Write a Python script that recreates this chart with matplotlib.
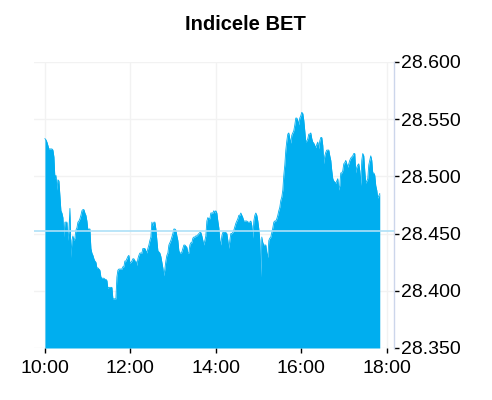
import pandas as pd
import matplotlib.pyplot as plt
import matplotlib.dates as mdates

# Indicele BET - evolutie intraday
values = [
    28.533, 28.532, 28.530, 28.527, 28.524, 28.524, 28.524, 28.524, 28.523, 28.517,
    28.498, 28.501, 28.488, 28.497, 28.496, 28.483, 28.470, 28.468, 28.464, 28.447,
    28.460, 28.460, 28.460, 28.444, 28.453, 28.472, 28.429, 28.444, 28.448, 28.444,
    28.446, 28.453, 28.455, 28.460, 28.461, 28.463, 28.466, 28.470, 28.471, 28.471,
    28.468, 28.466, 28.461, 28.453, 28.454, 28.454, 28.437, 28.433, 28.431, 28.428,
    28.426, 28.425, 28.420, 28.420, 28.419, 28.418, 28.412, 28.411, 28.411, 28.411,
    28.410, 28.410, 28.409, 28.402, 28.403, 28.403, 28.403, 28.403, 28.393, 28.393,
    28.393, 28.393, 28.412, 28.418, 28.419, 28.419, 28.419, 28.419, 28.421, 28.421,
    28.426, 28.426, 28.428, 28.430, 28.431, 28.424, 28.425, 28.426, 28.428, 28.428,
    28.426, 28.426, 28.422, 28.428, 28.431, 28.433, 28.433, 28.433, 28.437, 28.437,
    28.437, 28.435, 28.433, 28.437, 28.440, 28.444, 28.447, 28.460, 28.457, 28.460,
    28.460, 28.454, 28.444, 28.435, 28.434, 28.433, 28.430, 28.425, 28.420, 28.413,
    28.419, 28.426, 28.431, 28.433, 28.440, 28.442, 28.444, 28.447, 28.450, 28.454,
    28.454, 28.453, 28.448, 28.444, 28.435, 28.433, 28.433, 28.434, 28.437, 28.440,
    28.440, 28.439, 28.438, 28.433, 28.433, 28.440, 28.442, 28.442, 28.446, 28.447,
    28.447, 28.448, 28.448, 28.449, 28.450, 28.451, 28.451, 28.448, 28.444, 28.440,
    28.444, 28.448, 28.461, 28.464, 28.463, 28.463, 28.468, 28.468, 28.468, 28.470,
    28.468, 28.470, 28.468, 28.461, 28.455, 28.444, 28.440, 28.448, 28.451, 28.451,
    28.451, 28.451, 28.450, 28.444, 28.437, 28.444, 28.450, 28.450, 28.451, 28.453,
    28.456, 28.459, 28.461, 28.463, 28.466, 28.466, 28.468, 28.466, 28.464, 28.461,
    28.461, 28.461, 28.461, 28.460, 28.460, 28.460, 28.461, 28.457, 28.446, 28.461,
    28.466, 28.468, 28.466, 28.461, 28.454, 28.444, 28.412, 28.447, 28.442, 28.440,
    28.440, 28.440, 28.433, 28.429, 28.444, 28.446, 28.447, 28.451, 28.455, 28.460,
    28.461, 28.461, 28.463, 28.466, 28.470, 28.473, 28.479, 28.482, 28.488, 28.501,
    28.510, 28.523, 28.531, 28.537, 28.538, 28.533, 28.529, 28.536, 28.538, 28.540,
    28.545, 28.551, 28.551, 28.549, 28.545, 28.551, 28.553, 28.556, 28.555, 28.549,
    28.540, 28.530, 28.531, 28.533, 28.537, 28.537, 28.538, 28.533, 28.530, 28.529,
    28.527, 28.525, 28.528, 28.530, 28.524, 28.531, 28.534, 28.534, 28.527, 28.511,
    28.518, 28.521, 28.523, 28.523, 28.523, 28.518, 28.514, 28.505, 28.498, 28.496,
    28.495, 28.494, 28.496, 28.498, 28.488, 28.492, 28.503, 28.503, 28.505, 28.511,
    28.512, 28.514, 28.511, 28.508, 28.511, 28.514, 28.516, 28.517, 28.518, 28.520,
    28.520, 28.503, 28.508, 28.510, 28.511, 28.505, 28.492, 28.514, 28.520, 28.518,
    28.505, 28.494, 28.496, 28.498, 28.510, 28.514, 28.518, 28.514, 28.503, 28.503,
    28.501, 28.492, 28.488, 28.481, 28.483, 28.485,
]
day = "2024-01-15"
start_time = "10:00"
end_time = "17:50"
prev_close = 28.452

x_ticks = ["10:00", "12:00", "14:00", "16:00", "18:00"]
y_ticks = [28.35, 28.40, 28.45, 28.50, 28.55, 28.60]
y_labels = ["28.350", "28.400", "28.450", "28.500", "28.550", "28.600"]
x_min, x_max = "09:44:40", "18:10:00"

times = pd.date_range(f"{day} {start_time}", f"{day} {end_time}", periods=len(values))

plt.rcParams['font.family'] = ['Liberation Sans', 'DejaVu Sans']

fig = plt.figure(figsize=(4.92, 4.0), dpi=100)
ax = fig.add_axes([34 / 492, 52 / 400, 360 / 492, 286 / 400])

ax.fill_between(times, values, y_ticks[0], color='#00aeef', linewidth=0, zorder=2)
ax.plot(times, values, color='#00aeef', linewidth=0.6, zorder=2)
ax.axhline(prev_close, color='#aee0f7', linewidth=1.2, zorder=3)

ax.set_ylim(y_ticks[0], y_ticks[-1])
ax.set_xlim(pd.Timestamp(f"{day} {x_min}"), pd.Timestamp(f"{day} {x_max}"))

ax.set_xticks([pd.Timestamp(f"{day} {t}") for t in x_ticks])
ax.xaxis.set_major_formatter(mdates.DateFormatter('%H:%M'))
ax.set_yticks(y_ticks)
ax.set_yticklabels(y_labels)
ax.yaxis.tick_right()

ax.grid(True, color='#f2f2f2', linewidth=1, zorder=0)
ax.set_axisbelow(True)

for s in ['top', 'left', 'bottom']:
    ax.spines[s].set_visible(False)
ax.spines['right'].set_color('#ccd6eb')
ax.spines['right'].set_linewidth(1)

ax.tick_params(axis='x', length=3.5, width=1, pad=5, labelsize=14, colors='black')
ax.tick_params(axis='y', length=3.6, width=1, pad=1.5, labelsize=14, colors='black')

fig.text(245 / 492, 1 - 24.5 / 400, "Indicele BET", ha='center', va='center',
         fontsize=14.5, fontweight='bold')

plt.savefig('out.png', dpi=100)
